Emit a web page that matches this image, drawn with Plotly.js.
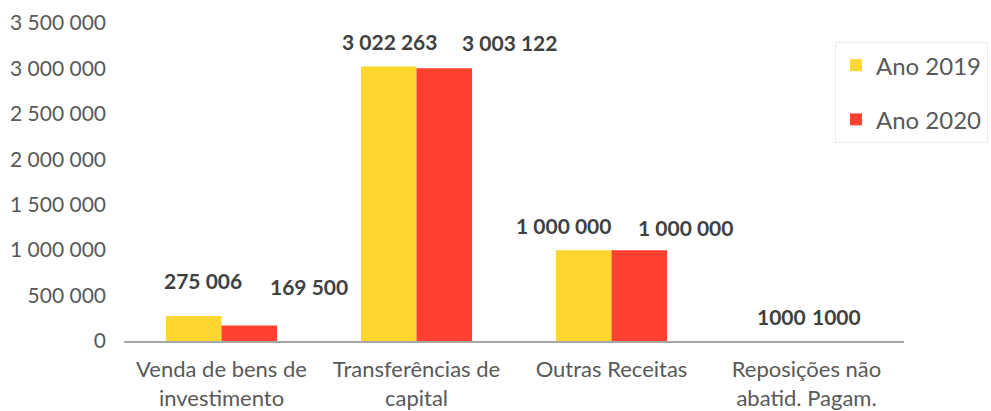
<!DOCTYPE html>
<html><head><meta charset="utf-8">
<script src="https://cdn.plot.ly/plotly-3.0.1.min.js"></script>
<style>html,body{margin:0;padding:0;background:#fff}#c{width:991px;height:411px}</style>
</head><body><div id="c"></div>
<script>
const categories = ["Venda de bens de<br>investimento", "Transferências de<br>capital", "Outras Receitas", "Reposições não<br>abatid. Pagam."];
const values2019 = [275006, 3022263, 1000000, 1000];
const values2020 = [169500, 3003122, 1000000, 1000];
const labels2019 = ["275 006", "3 022 263", "1 000 000", "1000"];
const labels2020 = ["169 500", "3 003 122", "1 000 000", "1000"];
const tickValues = [0, 500000, 1000000, 1500000, 2000000, 2500000, 3000000, 3500000];
const tickLabels = ["0", "500 000", "1 000 000", "1 500 000", "2 000 000", "2 500 000", "3 000 000", "3 500 000"];
const seriesNames = ["Ano 2019", "Ano 2020"];

// label placement offsets (pixels) relative to category centre / bar top
const shift2019 = [[-19, 36], [-27, 25], [-48, 25], [-25, 24]];
const shift2020 = [[87, 39], [93, 26], [74, 23], [30, 24]];

const traces = [
  {type: 'bar', name: seriesNames[0], x: categories, y: values2019, marker: {color: '#FDD62F'}, legendgroup: 'a', hoverinfo: 'none'},
  {type: 'bar', name: seriesNames[1], x: categories, y: values2020, marker: {color: '#FF4130'}, legendgroup: 'b', hoverinfo: 'none'}
];

const labelFont = {family: 'Lato, "Open Sans", sans-serif', size: 21, color: '#404040', weight: 'bold'};
const annotations = [];
categories.forEach((c, i) => {
  annotations.push({x: c, y: values2019[i], xref: 'x', yref: 'y', text: labels2019[i], showarrow: false,
    xshift: shift2019[i][0], yshift: shift2019[i][1], yanchor: 'middle', font: labelFont});
  annotations.push({x: c, y: values2020[i], xref: 'x', yref: 'y', text: labels2020[i], showarrow: false,
    xshift: shift2020[i][0], yshift: shift2020[i][1], yanchor: 'middle', font: labelFont});
});

const layout = {
  width: 991, height: 411,
  margin: {l: 124, r: 87, t: 23, b: 70, autoexpand: false},
  paper_bgcolor: '#fff', plot_bgcolor: '#fff',
  barmode: 'group', bargap: 0.43, bargroupgap: 0,
  font: {family: 'Lato, "Open Sans", sans-serif', color: '#595959'},
  xaxis: {showgrid: false, showline: true, linecolor: '#a6a6a6', linewidth: 2, ticks: '',
    tickfont: {size: 22, color: '#595959'}, fixedrange: true, ticklabelstandoff: 8, automargin: false},
  yaxis: {range: [0, 3500000], tickvals: tickValues, ticktext: tickLabels, showgrid: false, automargin: false,
    zeroline: false, showline: false, ticks: '', ticklen: 0, tickfont: {size: 21, color: '#595959'}, ticklabelstandoff: 17},
  legend: {x: 0.9115, y: 0.940, xanchor: 'left', yanchor: 'top', bgcolor: 'rgba(255,255,255,0)',
    bordercolor: '#ececec', borderwidth: 1, font: {size: 24, color: '#595959'}, tracegroupgap: 20},
  annotations: annotations,
  showlegend: true
};

Plotly.newPlot('c', traces, layout, {displayModeBar: false, staticPlot: true});
</script>
</body></html>
